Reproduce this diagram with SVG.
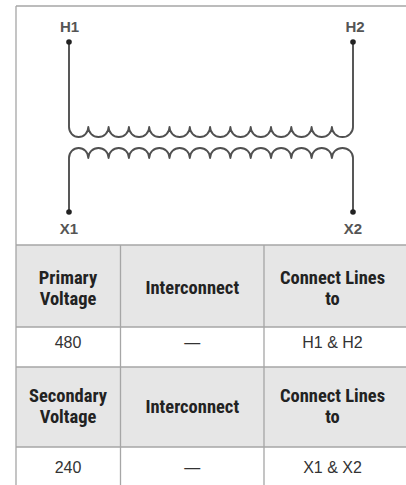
<svg xmlns="http://www.w3.org/2000/svg" width="406" height="485" viewBox="0 0 406 485">
<style>
.frame{stroke:#a6a6a6;stroke-width:1.3;fill:none}
.hdr{fill:#e6e6e6}
.coil{stroke:#505050;stroke-width:1.9;fill:none;stroke-linejoin:round}
.dot{fill:#222}
.term{font-family:"Liberation Sans",Arial,sans-serif;font-weight:bold;font-size:15px;fill:#555;text-anchor:middle}
.th{font-family:"Liberation Sans Narrow","Roboto Condensed","Liberation Sans",sans-serif;font-weight:bold;font-size:18.5px;fill:#222;text-anchor:middle}
.td{font-family:"Liberation Sans",Arial,sans-serif;font-size:16px;fill:#333;text-anchor:middle}
</style>
<rect width="406" height="485" fill="#fff"/>
<g id="table">
<rect class="hdr" x="16" y="245" width="390" height="82"/>
<rect class="hdr" x="16" y="367" width="390" height="80"/>
<path class="frame" d="M16,6 H406 M16,6 V485 M16,245 H406 M16,327 H406 M16,367 H406 M16,447 H406 M120.5,245 V485 M264,245 V485"/>
</g>
<g id="connectors">
<path class="coil" d="M69,42 V127 A9.65,10 0 0 0 88.3,127 a10.15,10 0 0 0 20.3,0 a10.15,10 0 0 0 20.3,0 a10.15,10 0 0 0 20.3,0 a10.15,10 0 0 0 20.3,0 a10.15,10 0 0 0 20.3,0 a10.15,10 0 0 0 20.3,0 a10.15,10 0 0 0 20.3,0 a10.15,10 0 0 0 20.3,0 a10.15,10 0 0 0 20.3,0 a10.15,10 0 0 0 20.3,0 a10.15,10 0 0 0 20.3,0 a10.15,10 0 0 0 20.3,0 A10.5,10 0 0 0 353,127 V42"/>
<path class="coil" d="M69,212 V158 A9.65,10 0 0 1 88.3,158 a10.15,10 0 0 1 20.3,0 a10.15,10 0 0 1 20.3,0 a10.15,10 0 0 1 20.3,0 a10.15,10 0 0 1 20.3,0 a10.15,10 0 0 1 20.3,0 a10.15,10 0 0 1 20.3,0 a10.15,10 0 0 1 20.3,0 a10.15,10 0 0 1 20.3,0 a10.15,10 0 0 1 20.3,0 a10.15,10 0 0 1 20.3,0 a10.15,10 0 0 1 20.3,0 a10.15,10 0 0 1 20.3,0 A10.5,10 0 0 1 353,158 V212"/>
</g>
<g id="H1"><circle class="dot" cx="69" cy="42" r="2.8"/><text class="term" x="69.5" y="32">H1</text></g>
<g id="H2"><circle class="dot" cx="353" cy="42" r="2.8"/><text class="term" x="355" y="32">H2</text></g>
<g id="X1"><circle class="dot" cx="69" cy="212" r="2.8"/><text class="term" x="69" y="234">X1</text></g>
<g id="X2"><circle class="dot" cx="353" cy="212" r="2.8"/><text class="term" x="353" y="234">X2</text></g>
<g id="cells">
<text class="th" x="68" y="284">Primary</text>
<text class="th" x="68" y="305">Voltage</text>
<text class="th" x="192.3" y="294">Interconnect</text>
<text class="th" x="332.5" y="284">Connect Lines</text>
<text class="th" x="332.5" y="305">to</text>
<text class="td" x="68" y="348">480</text>
<text class="td" x="192.3" y="348">—</text>
<text class="td" x="332.5" y="348">H1 &amp; H2</text>
<text class="th" x="68" y="402">Secondary</text>
<text class="th" x="68" y="423">Voltage</text>
<text class="th" x="192.3" y="413">Interconnect</text>
<text class="th" x="332.5" y="402">Connect Lines</text>
<text class="th" x="332.5" y="423">to</text>
<text class="td" x="68" y="473">240</text>
<text class="td" x="192.3" y="473">—</text>
<text class="td" x="332.5" y="473">X1 &amp; X2</text>
</g>
</svg>
